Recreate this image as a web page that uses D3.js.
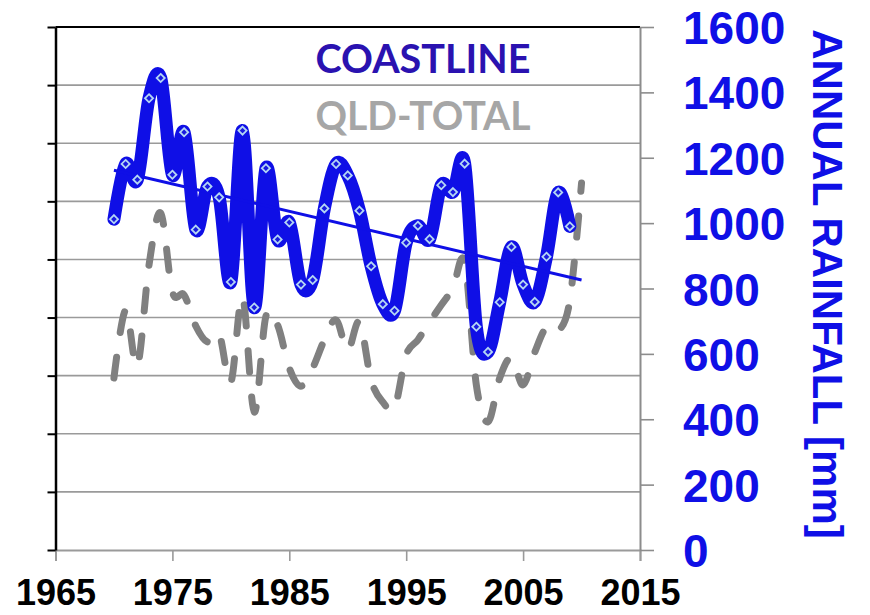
<!DOCTYPE html>
<html>
<head>
<meta charset="utf-8">
<script src="https://cdn.jsdelivr.net/npm/d3@7"></script>
<style>
  html, body { margin: 0; padding: 0; background: #fff; }
  svg { display: block; }
</style>
</head>
<body>
<svg id="chart" width="870" height="615"></svg>
<script>
// Annual rainfall: Queensland coastline (right axis, mm) and QLD total (left axis, unlabelled)
const coastYears = d3.range(1970, 2010);
const coastValues = [1012, 1181, 1133, 1382, 1444, 1148, 1278, 980, 1112, 1079,
                     820, 1283, 742, 1168, 950, 1002, 812, 826, 1045, 1181,
                     1146, 1038, 868, 752, 732, 940, 992, 951, 1116, 1095,
                     1182, 683, 606, 758, 927, 812, 759, 897, 1094, 990];

const qldYears = d3.range(1970, 2011);
const qldValues = [592, 826, 633, 981, 1160, 888, 878, 771, 716, 743,
                   578, 871, 475, 805, 774, 626, 564, 626, 723, 792,
                   688, 785, 585, 509, 489, 671, 723, 785, 843, 902,
                   991, 568, 441, 592, 661, 568, 681, 767, 754, 860,
                   1263];

// linear trend of the coastline series
const trendYears = [1970, 2010];
const trendValues = [1162, 826];

const xTicks = [1965, 1975, 1985, 1995, 2005, 2015];
const rightTicks = [0, 200, 400, 600, 800, 1000, 1200, 1400, 1600];
const leftTicks = [0, 200, 400, 600, 800, 1000, 1200, 1400, 1600, 1800];

const legendLabels = ["COASTLINE", "QLD-TOTAL"];

const BLUE = "#0f0fe6";
const svg = d3.select("#chart");

const plotL = 55.5, plotR = 640, plotT = 27, plotB = 550;

const x = d3.scaleLinear().domain([1965, 2015]).range([plotL, plotR]);
const yR = d3.scaleLinear().domain([0, 1600]).range([plotB, plotT]);
const yL = d3.scaleLinear().domain([0, 1800]).range([plotB, plotT]);

// horizontal gridlines on the left-axis ticks
svg.append("g")
  .selectAll("line")
  .data(leftTicks.slice(1))
  .join("line")
  .attr("x1", plotL).attr("x2", plotR)
  .attr("y1", d => yL(d)).attr("y2", d => yL(d))
  .attr("stroke", d => d === 1800 ? "#000" : "#9a9a9a")
  .attr("stroke-width", d => d === 1800 ? 2 : 1.6);

// bottom axis
const xAxis = svg.append("g")
  .attr("transform", `translate(0,${plotB})`)
  .call(d3.axisBottom(x).tickValues(xTicks).tickFormat(d3.format("d")).tickSize(11).tickPadding(18));
xAxis.select(".domain").attr("stroke", "#9a9a9a").attr("stroke-width", 2);
xAxis.selectAll(".tick line").attr("stroke", "#9a9a9a").attr("stroke-width", 1.6);
xAxis.selectAll(".tick text")
  .attr("font-family", "'Liberation Sans', Arial, sans-serif")
  .attr("font-weight", "bold").attr("font-size", 36).attr("fill", "#000");

// left axis: ticks only
const lAxis = svg.append("g")
  .attr("transform", `translate(${plotL},0)`)
  .call(d3.axisLeft(yL).tickValues(leftTicks).tickFormat("").tickSize(8).tickSizeOuter(0));
lAxis.select(".domain").attr("stroke", "#000").attr("stroke-width", 2.5);
lAxis.selectAll(".tick line").attr("stroke", "#000").attr("stroke-width", 2);

// right axis
const rAxis = svg.append("g")
  .attr("transform", `translate(${plotR},0)`)
  .call(d3.axisRight(yR).tickValues(rightTicks).tickFormat(d3.format("d"))
    .tickSize(14).tickSizeOuter(0).tickPadding(29));
rAxis.select(".domain").attr("stroke", "#8c8c8c").attr("stroke-width", 2);
rAxis.selectAll(".tick line").attr("stroke", "#8c8c8c").attr("stroke-width", 1.6);
rAxis.selectAll(".tick text")
  .attr("font-family", "'Liberation Sans', Arial, sans-serif")
  .attr("font-weight", "bold").attr("font-size", 46).attr("fill", BLUE)
  .attr("text-anchor", "start").attr("dy", "0.36em");

// right axis title
svg.append("text")
  .attr("transform", `translate(813,284) rotate(90)`)
  .attr("text-anchor", "middle")
  .attr("font-family", "'Liberation Sans', Arial, sans-serif")
  .attr("font-weight", "bold").attr("font-size", 42).attr("fill", BLUE)
  .text("ANNUAL RAINFALL [mm]");

// QLD total: dashed smoothed line
const qldLine = d3.line()
  .x((d, i) => x(qldYears[i]))
  .y(d => yL(d))
  .curve(d3.curveCardinal.tension(0));
svg.append("path")
  .attr("d", qldLine(qldValues))
  .attr("fill", "none").attr("stroke", "#808080").attr("stroke-width", 7)
  .attr("stroke-linecap", "round").attr("stroke-dasharray", "21,25");

// coastline: thick smoothed line
const coastLine = d3.line()
  .x((d, i) => x(coastYears[i]))
  .y(d => yR(d))
  .curve(d3.curveCardinal.tension(0));
svg.append("path")
  .attr("d", coastLine(coastValues))
  .attr("fill", "none").attr("stroke", BLUE).attr("stroke-width", 13)
  .attr("stroke-linejoin", "round").attr("stroke-linecap", "round");

// trend line
svg.append("line")
  .attr("x1", x(trendYears[0])).attr("y1", yR(trendValues[0]))
  .attr("x2", x(trendYears[1])).attr("y2", yR(trendValues[1]))
  .attr("stroke", BLUE).attr("stroke-width", 3);

// diamond markers
const diamond = d3.symbol().type(d3.symbolDiamond2).size(42);
svg.append("g")
  .selectAll("path")
  .data(coastValues)
  .join("path")
  .attr("d", diamond)
  .attr("transform", (d, i) => `translate(${x(coastYears[i])},${yR(d)})`)
  .attr("fill", "#1a1ae0").attr("stroke", "#b4d6f4").attr("stroke-width", 1.8);

// series labels
const legendColors = ["#2a12b0", "#a6a6a6"];
svg.append("g")
  .selectAll("text")
  .data(legendLabels)
  .join("text")
  .attr("x", 423).attr("y", (d, i) => 73 + i * 57)
  .attr("text-anchor", "middle")
  .attr("font-family", "Lato, 'Open Sans', sans-serif")
  .attr("font-weight", "bold").attr("font-size", 41)
  .attr("textLength", 215).attr("lengthAdjust", "spacingAndGlyphs")
  .attr("fill", (d, i) => legendColors[i])
  .text(d => d);
</script>
</body>
</html>
